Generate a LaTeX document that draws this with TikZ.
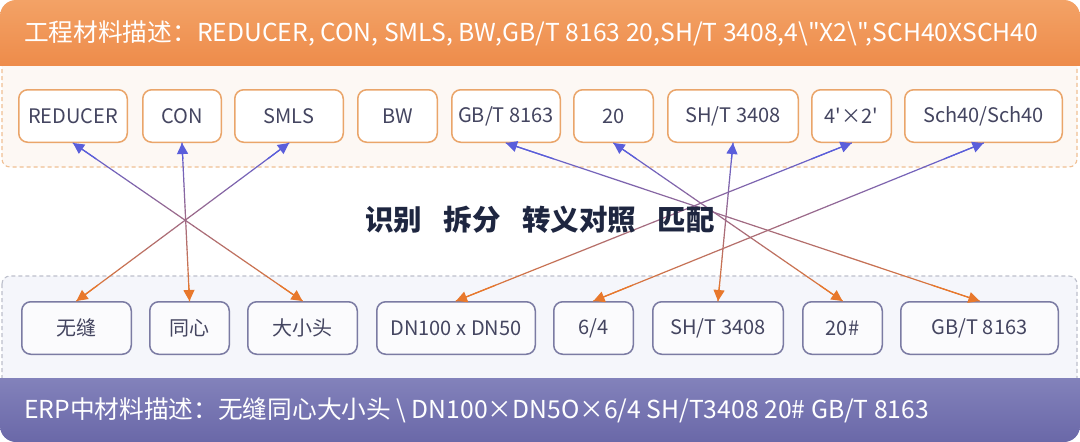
\documentclass[tikz,border=0pt]{standalone}
\usepackage{fontspec}
\setmainfont{Noto Sans CJK SC}[Ligatures=TeXOff]
\usetikzlibrary{arrows.meta,calc}
\definecolor{hdrTop}{HTML}{F3A266}
\definecolor{hdrBot}{HTML}{EB803C}
\definecolor{bandTop}{HTML}{9191C6}
\definecolor{bandBot}{HTML}{6A68A8}
\definecolor{topFill}{HTML}{FDF8F4}
\definecolor{topDash}{HTML}{F0C094}
\definecolor{botFill}{HTML}{F5F6FB}
\definecolor{botDash}{HTML}{BDC0CC}
\definecolor{boxOr}{HTML}{EAA56A}
\definecolor{boxPu}{HTML}{7B7BA3}
\definecolor{boxTxt}{HTML}{444560}
\definecolor{midTxt}{HTML}{1E2640}
\definecolor{arrB}{HTML}{5A5EDB}
\definecolor{arrO}{HTML}{E8782C}
\tikzset{
  topbox/.style={draw=boxOr, line width=1.5pt, fill=white, rounded corners=9pt,
    text=boxTxt, font=\fontsize{20}{24}\selectfont, inner sep=0pt, minimum height=52.5pt},
  botbox/.style={draw=boxPu, line width=1.5pt, fill=white!60!botFill, rounded corners=9pt,
    text=boxTxt, font=\fontsize{20}{24}\selectfont, inner sep=0pt, minimum height=52.5pt},
  region/.style={line width=1.1pt, dash pattern=on 4pt off 3pt, rounded corners=8pt},
  lnk/.style={line width=1.2pt, line cap=round},
  tipstyle/.style={line width=1.2pt, -{Triangle[length=11pt,width=11pt]}},
  band/.style={anchor=west, text=white, font=\fontsize{24.7}{28}\selectfont, inner sep=0pt}
}
\newcommand\linkab[2]{%
  \foreach \k in {0,...,39}{%
    \pgfmathsetmacro\ta{\k/40}%
    \pgfmathsetmacro\tb{(\k+1)/40}%
    \pgfmathsetmacro\pc{100-100*(\k+0.5)/40}%
    \draw[lnk, color=arrB!\pc!arrO] ($(#1.south)!\ta!(#2.north)$) -- ($(#1.south)!\tb!(#2.north)$);
  }%
  \draw[tipstyle, arrB] ($(#1.south)!0.1!(#2.north)$) -- (#1.south);
  \draw[tipstyle, arrO] ($(#1.south)!0.9!(#2.north)$) -- (#2.north);
}
\begin{document}
\begin{tikzpicture}[x=1pt,y=-1pt]
\useasboundingbox (0,0) rectangle (1080,442);
\fill[white] (0,0) rectangle (1080,442);
% regions
\filldraw[region, fill=topFill, draw=topDash] (2,40) rectangle (1077,167);
\filldraw[region, fill=botFill, draw=botDash] (2,276) rectangle (1077,400);
% header
\begin{scope}
  \clip (0,0) rectangle (1080,65);
  \shade[top color=hdrTop, bottom color=hdrBot, rounded corners=16pt] (0,0) rectangle (1080,100);
\end{scope}
% bottom band
\begin{scope}
  \clip (0,378) rectangle (1080,442);
  \shade[top color=bandTop, bottom color=bandBot, rounded corners=16pt] (0,340) rectangle (1080,442);
\end{scope}
\node[band] (hdr) at (24,33)
  {工程材料描述：REDUCER, CON, SMLS, BW,GB/T 8163 20,SH/T 3408,4\textbackslash"X2\textbackslash",SCH40XSCH40};
\node[band] (ftr) at (24,410)
  {ERP中材料描述：无缝同心大小头 \textbackslash{} DN100×DN5O×6/4 SH/T3408 20\# GB/T 8163};
% top boxes
\node[topbox, minimum width=108.5pt] (t1) at (73,116) {REDUCER};
\node[topbox, minimum width=78.5pt] (t2) at (182,116) {CON};
\node[topbox, minimum width=108.5pt] (t3) at (289,116) {SMLS};
\node[topbox, minimum width=79.5pt] (t4) at (397.5,116) {BW};
\node[topbox, minimum width=108.5pt] (t5) at (506,116) {GB/T 8163};
\node[topbox, minimum width=79.5pt] (t6) at (613.5,116) {20};
\node[topbox, minimum width=130.5pt] (t7) at (733,116) {SH/T 3408};
\node[topbox, minimum width=79.5pt] (t8) at (851.5,116) {4'×2'};
\node[topbox, minimum width=157.5pt] (t9) at (983.5,116) {Sch40/Sch40};
% bottom boxes
\node[botbox, minimum width=109.5pt] (b1) at (76.5,328) {无缝};
\node[botbox, minimum width=79.5pt] (b2) at (189.5,328) {同心};
\node[botbox, minimum width=109.5pt] (b3) at (302.5,328) {大小头};
\node[botbox, minimum width=158.5pt] (b4) at (456,328) {DN100 x DN50};
\node[botbox, minimum width=79.5pt] (b5) at (593.5,328) {6/4};
\node[botbox, minimum width=130.5pt] (b6) at (718,328) {SH/T 3408};
\node[botbox, minimum width=79.5pt] (b7) at (842.5,328) {20\#};
\node[botbox, minimum width=157.5pt] (b8) at (979.5,328) {GB/T 8163};
% links
\linkab{t1}{b3}
\linkab{t2}{b2}
\linkab{t3}{b1}
\linkab{t5}{b8}
\linkab{t6}{b7}
\linkab{t7}{b6}
\linkab{t8}{b4}
\linkab{t9}{b5}
% middle text
\node[text=midTxt, font=\fontsize{28.5}{32}\selectfont\bfseries, inner sep=0pt] (mid) at (540,220)
  {识别\hspace{0.75em}拆分\hspace{0.75em}转义对照\hspace{0.75em}匹配};
\end{tikzpicture}
\end{document}
